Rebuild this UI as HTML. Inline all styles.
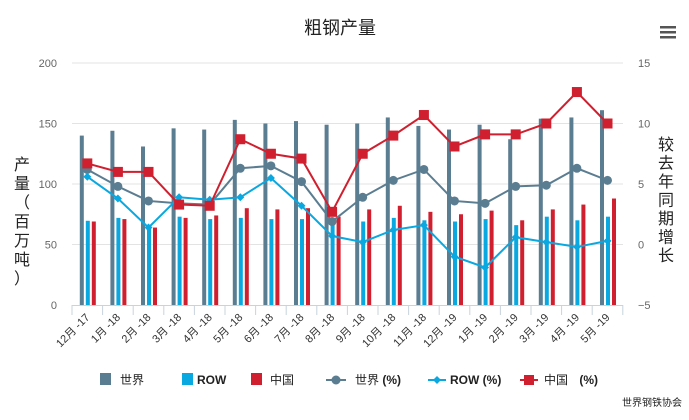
<!DOCTYPE html>
<html><head><meta charset="utf-8"><style>
body{margin:0;background:#fff;width:689px;height:415px;overflow:hidden}
svg{font-family:"Liberation Sans","Noto Sans CJK SC",sans-serif}
</style></head><body>
<svg id="s" width="689" height="415" xmlns="http://www.w3.org/2000/svg"></svg>
<script>
const W=[140,144,131,146,145,153,150,152,149,150,155,148,145,149,137,154,155,161];
const R=[69.6,72,63,73,71,72,71,71,72,69,72,70,69,71,66,73,70,73];
const C=[69,71,64,72,74,80,79,80,73,79,82,77,75,78,70,79,83,88];
const WL=[6.2,4.8,3.6,3.4,3.3,6.3,6.5,5.2,1.9,3.9,5.3,6.2,3.6,3.4,4.8,4.9,6.3,5.3];
const RL=[5.6,3.8,1.4,3.9,3.7,3.9,5.5,3.2,0.7,0.2,1.2,1.6,-1,-1.9,0.6,0.2,-0.2,0.3];
const CL=[6.7,6.0,6.0,3.3,3.2,8.7,7.5,7.1,2.7,7.5,9.0,10.7,8.1,9.1,9.1,10,12.6,10];
const LB=["12月 -17","1月 -18","2月 -18","3月 -18","4月 -18","5月 -18","6月 -18","7月 -18","8月 -18","9月 -18","10月 -18","11月 -18","12月 -19","1月 -19","2月 -19","3月 -19","4月 -19","5月 -19"];
const x0=72,sp=30.6,yb=305,ky=1.21;
const yl=v=>yb-v*ky, yr=v=>244.5-v*12.1, cx=i=>x0+sp*(i+0.5);
let h='';
h+='<text x="340" y="34" font-size="18" text-anchor="middle" fill="#222">粗钢产量</text>';
h+='<rect x="660" y="26" width="16" height="2.5" fill="#555"/><rect x="660" y="31" width="16" height="2.5" fill="#555"/><rect x="660" y="36" width="16" height="2.5" fill="#555"/>';
for(let k=0;k<=4;k++){const y=yb-k*60.5;
 if(k>0)h+=`<line x1="72" x2="623" y1="${y}" y2="${y}" stroke="#e3e3e3"/>`;
 h+=`<text x="57" y="${y+4}" font-size="11" text-anchor="end" fill="#666">${k*50}</text>`;
 h+=`<text x="638" y="${y+4}" font-size="11" fill="#666">${k==0?'−5':(k-1)*5}</text>`;}
h+=`<line x1="72" x2="623" y1="305.5" y2="305.5" stroke="#c8d3de"/>`;
for(let i=0;i<=18;i++){const x=x0+sp*i;h+=`<line x1="${x}" x2="${x}" y1="305" y2="315" stroke="#c8d3de"/>`;}
"产量（百万吨）".split('').forEach((c,i)=>h+=`<text x="22" y="${170+i*19}" font-size="16" text-anchor="middle" fill="#222">${c}</text>`);
"较去年同期增长".split('').forEach((c,i)=>h+=`<text x="666" y="${150+i*18.5}" font-size="16" text-anchor="middle" fill="#222">${c}</text>`);
for(let i=0;i<18;i++){const c=cx(i);
 h+=`<rect x="${c-7.5}" y="${yl(W[i])}" width="4" height="${W[i]*ky}" fill="#5b7d91"/>`;
 h+=`<rect x="${c-1.5}" y="${yl(R[i])}" width="4" height="${R[i]*ky}" fill="#0aa8e0"/>`;
 h+=`<rect x="${c+4.5}" y="${yl(C[i])}" width="4" height="${C[i]*ky}" fill="#d01f2e"/>`;
 h+=`<text transform="translate(${c+3},${318}) rotate(-45)" font-size="11" text-anchor="end" fill="#333">${LB[i]}</text>`;}
function line(d,col,mk){let p=d.map((v,i)=>`${cx(i)},${yr(v)}`).join(' ');
 h+=`<polyline points="${p}" fill="none" stroke="${col}" stroke-width="2"/>`;
 d.forEach((v,i)=>{const x=cx(i),y=yr(v);
  if(mk=='c')h+=`<circle cx="${x}" cy="${y}" r="4.5" fill="${col}"/>`;
  else if(mk=='d')h+=`<path d="M${x} ${y-4}L${x+4} ${y}L${x} ${y+4}L${x-4} ${y}Z" fill="${col}"/>`;
  else h+=`<rect x="${x-5}" y="${y-5}" width="10" height="10" fill="${col}"/>`;});}
line(WL,'#5b7d91','c');line(RL,'#0aa8e0','d');line(CL,'#d01f2e','s');
const ly=380;
h+=`<rect x="100" y="${ly-7}" width="11" height="12" fill="#5b7d91"/><text x="120" y="${ly+4}" font-size="12" fill="#222">世界</text>`;
h+=`<rect x="182" y="${ly-7}" width="11" height="12" fill="#0aa8e0"/><text x="197" y="${ly+4}" font-size="12" font-weight="bold" fill="#222">ROW</text>`;
h+=`<rect x="251" y="${ly-7}" width="11" height="12" fill="#d01f2e"/><text x="270" y="${ly+4}" font-size="12" fill="#222">中国</text>`;
h+=`<line x1="326" x2="346" y1="${ly}" y2="${ly}" stroke="#5b7d91" stroke-width="2"/><circle cx="336" cy="${ly}" r="4.5" fill="#5b7d91"/><text x="355" y="${ly+4}" font-size="12" fill="#222">世界 <tspan font-weight="bold">(%)</tspan></text>`;
h+=`<line x1="428" x2="446" y1="${ly}" y2="${ly}" stroke="#0aa8e0" stroke-width="2"/><path d="M437 ${ly-4}L441 ${ly}L437 ${ly+4}L433 ${ly}Z" fill="#0aa8e0"/><text x="450" y="${ly+4}" font-size="12" font-weight="bold" fill="#222">ROW (%)</text>`;
h+=`<line x1="520" x2="538" y1="${ly}" y2="${ly}" stroke="#d01f2e" stroke-width="2"/><rect x="524" y="${ly-5}" width="10" height="10" fill="#d01f2e"/><text x="544" y="${ly+4}" font-size="12" fill="#222">中国 <tspan dx="8" font-weight="bold">(%)</tspan></text>`;
h+=`<text x="682" y="406" font-size="10" text-anchor="end" fill="#222">世界钢铁协会</text>`;
document.getElementById('s').innerHTML=h;
</script>
</body></html>
